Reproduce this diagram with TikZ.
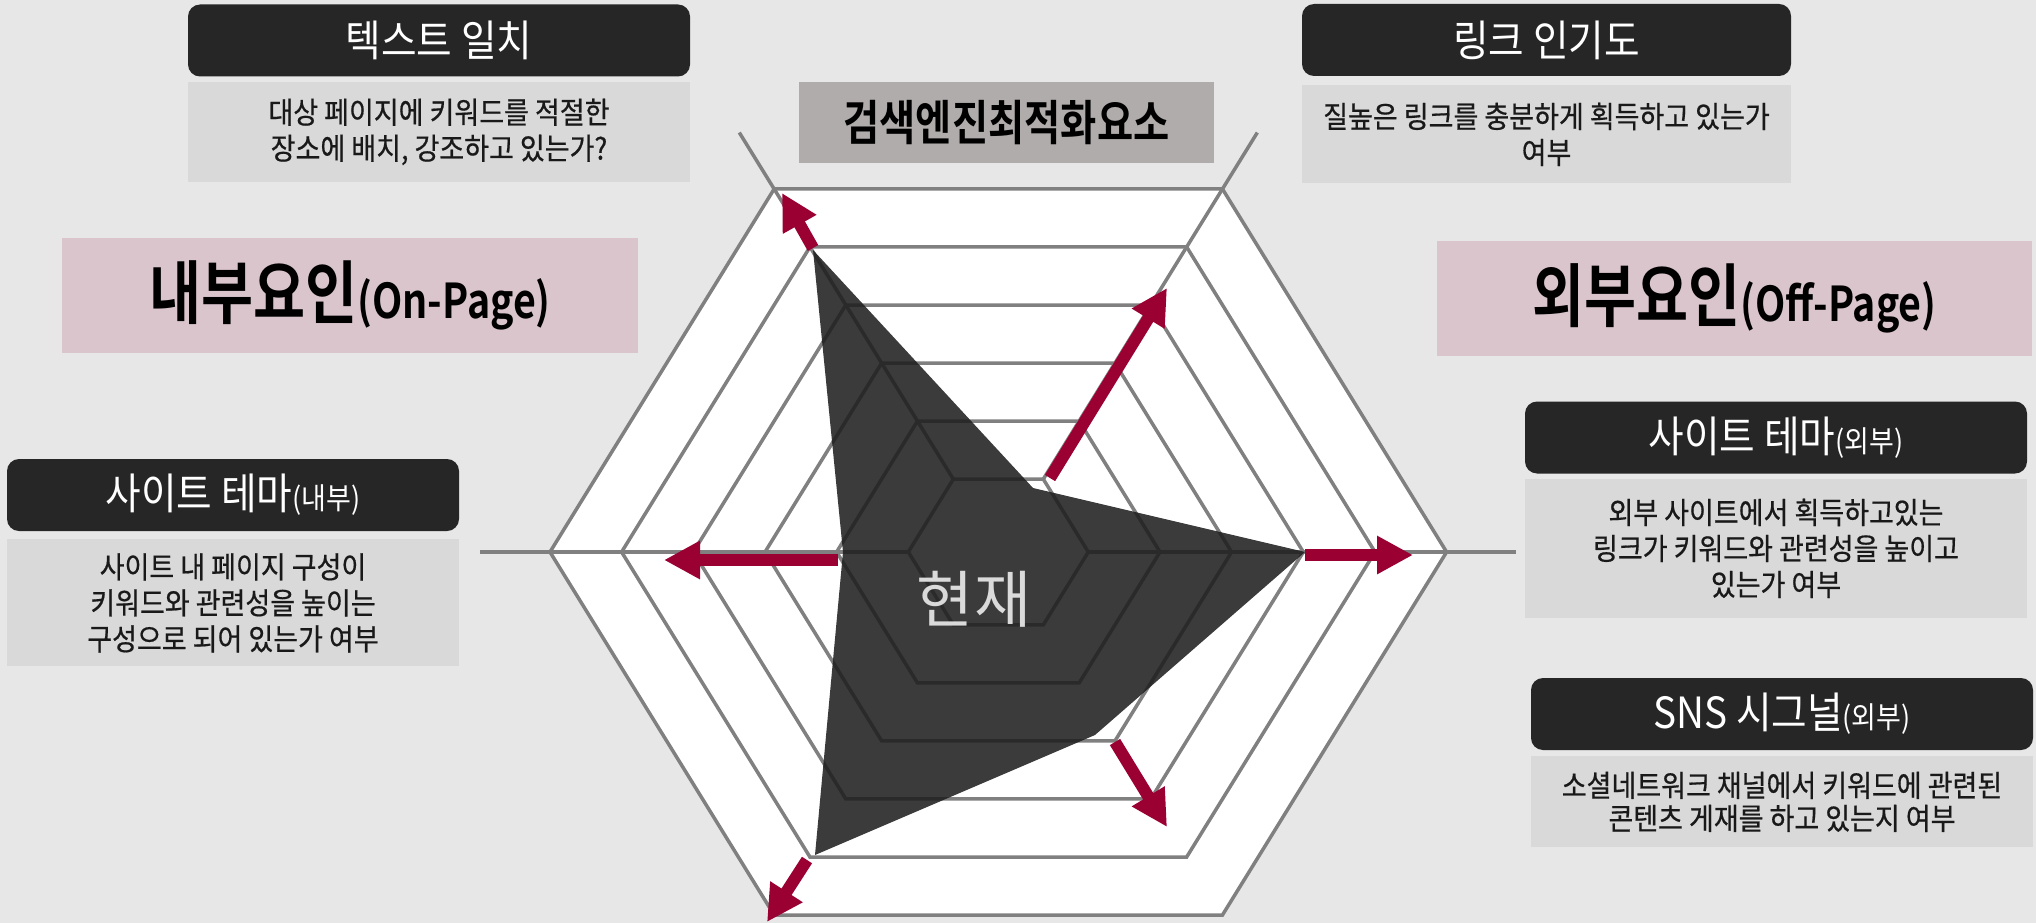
\documentclass[tikz,border=0pt]{standalone}
\usepackage{fontspec}
\usepackage{tikz}
\usetikzlibrary{arrows.meta}
\usetikzlibrary{positioning}
\newfontfamily\krfont[FakeStretch=0.9]{Noto Sans CJK KR}
\newfontfamily\krdesc[FakeStretch=0.9, FakeBold=0.6]{Noto Sans CJK KR}
\newfontfamily\krwide{Noto Sans CJK KR}
\newfontfamily\krbold[FakeStretch=0.82]{Noto Sans CJK KR Bold}
\definecolor{bggrey}{RGB}{231,231,231}
\definecolor{boxblack}{RGB}{38,38,38}
\definecolor{descgrey}{RGB}{217,217,217}
\definecolor{keypink}{RGB}{218,197,205}
\definecolor{headgrey}{RGB}{176,172,171}
\definecolor{gridgrey}{RGB}{128,128,128}
\definecolor{crimson}{RGB}{155,0,51}
\definecolor{datadark}{RGB}{30,30,30}
\definecolor{nowgrey}{RGB}{218,218,218}
\tikzset{titlebox/.style = {fill=boxblack, rounded corners=12pt, text=white, inner sep=0, minimum height=72pt, font=\krfont\fontsize{43}{48}\selectfont}}
\tikzset{descbox/.style = {fill=descgrey, text=black!90, inner sep=0, align=center, font=\krdesc\fontsize{30}{36}\selectfont}}
\tikzset{keybox/.style = {fill=keypink, inner sep=0, minimum height=115pt}}
\tikzset{gridline/.style = {draw=gridgrey, line width=3.5pt}}
\tikzset{arr/.style = {draw=crimson, line width=12pt, -{Triangle[length=36pt, width=36pt]}}}
\newcommand{\suffix}[1]{{\fontsize{30}{34}\selectfont(#1)}}

\begin{document}
\begin{tikzpicture}[x=1pt, y=1pt]
      \useasboundingbox (0,0) rectangle (2036,-923);
      \fill [bggrey] (0,0) rectangle (2036,-923);

      \node [titlebox, minimum width=502pt] (t1) at (439,-40.5) {텍스트 일치};
      \node [descbox, minimum width=502pt, minimum height=100pt, below=5pt of t1] (d1) {대상 페이지에 키워드를 적절한\\장소에 배치, 강조하고 있는가?};
      \node [titlebox, minimum width=489pt] (t2) at (1546.5,-40) {링크 인기도};
      \node [descbox, minimum width=489pt, minimum height=98pt, below=9pt of t2] (d2) {질높은 링크를 충분하게 획득하고 있는가\\여부};
      \node [titlebox, minimum width=452pt] (t3) at (233,-495) {사이트 테마\suffix{내부}};
      \node [descbox, minimum width=452pt, minimum height=127pt, below=8pt of t3] (d3) {사이트 내 페이지 구성이\\키워드와 관련성을 높이는\\구성으로 되어 있는가 여부};
      \node [titlebox, minimum width=502pt] (t4) at (1776,-437.5) {사이트 테마\suffix{외부}};
      \node [descbox, minimum width=502pt, minimum height=139pt, below=5pt of t4] (d4) {외부 사이트에서 획득하고있는\\링크가 키워드와 관련성을 높이고\\있는가 여부};
      \node [titlebox, minimum width=502pt] (t5) at (1782,-714) {SNS 시그널\suffix{외부}};
      \node [descbox, minimum width=502pt, minimum height=91pt, below=6pt of t5, font=\krdesc\fontsize{30}{33}\selectfont] (d5) {소셜네트워크 채널에서 키워드에 관련된\\콘텐츠 게재를 하고 있는지 여부};

      \node [keybox, minimum width=576pt] (k1) at (350,-295.5) {{\krbold\fontsize{69}{74}\selectfont 내부요인}{\krbold\fontsize{48}{54}\selectfont (On-Page)}};
      \node [keybox, minimum width=595pt] (k2) at (1734.5,-298.5) {{\krbold\fontsize{69}{74}\selectfont 외부요인}{\krbold\fontsize{48}{54}\selectfont (Off-Page)}};
      \node [fill=headgrey, inner sep=0, minimum width=415pt, minimum height=81pt, font=\krbold\fontsize{48}{52}\selectfont] (head) at (1006.5,-122.5) {검색엔진최적화요소};

      \begin{scope}[shift={(998.3,-552)}, yscale=0.935]
        \fill [white] (0:448.3) -- (60:448.3) -- (120:448.3) -- (180:448.3) -- (240:448.3) -- (300:448.3) -- cycle;
        \foreach \r in {90,161.7,233.3,305,376.7,448.3} {
          \draw [gridline] (0:\r) -- (60:\r) -- (120:\r) -- (180:\r) -- (240:\r) -- (300:\r) -- cycle;
        }
        \foreach \a in {0,60,120,180} {
          \draw [gridline] (\a:90) -- (\a:518);
        }
      \end{scope}

      \coordinate (p0) at (1305,-552);
      \coordinate (p60) at (1033,-488);
      \coordinate (p120) at (813,-250);
      \coordinate (p180) at (843,-552);
      \coordinate (p240) at (815,-855);
      \coordinate (p300) at (1095,-735);
      \fill [datadark, opacity=0.87] (p0) -- (p60) -- (p120) -- (p180) -- (p240) -- (p300) -- cycle;

      \coordinate (s0) at (1305,-555);
      \coordinate (e0) at (1413,-555);
      \coordinate (s60) at (1050,-478);
      \coordinate (e60) at (1167,-288);
      \coordinate (s120) at (813,-248);
      \coordinate (e120) at (782,-193);
      \coordinate (s180) at (838,-560);
      \coordinate (e180) at (664,-560);
      \coordinate (s240) at (807,-860);
      \coordinate (e240) at (767,-922);
      \coordinate (s300) at (1115,-742);
      \coordinate (e300) at (1167,-827);
      \foreach \a in {0,60,120,180,240,300} {
        \draw [arr] (s\a) -- (e\a);
      }

      \node [text=nowgrey, font=\krwide\fontsize{62}{70}\selectfont] (now) at (974,-599) {현재};
    \end{tikzpicture}
\end{document}
